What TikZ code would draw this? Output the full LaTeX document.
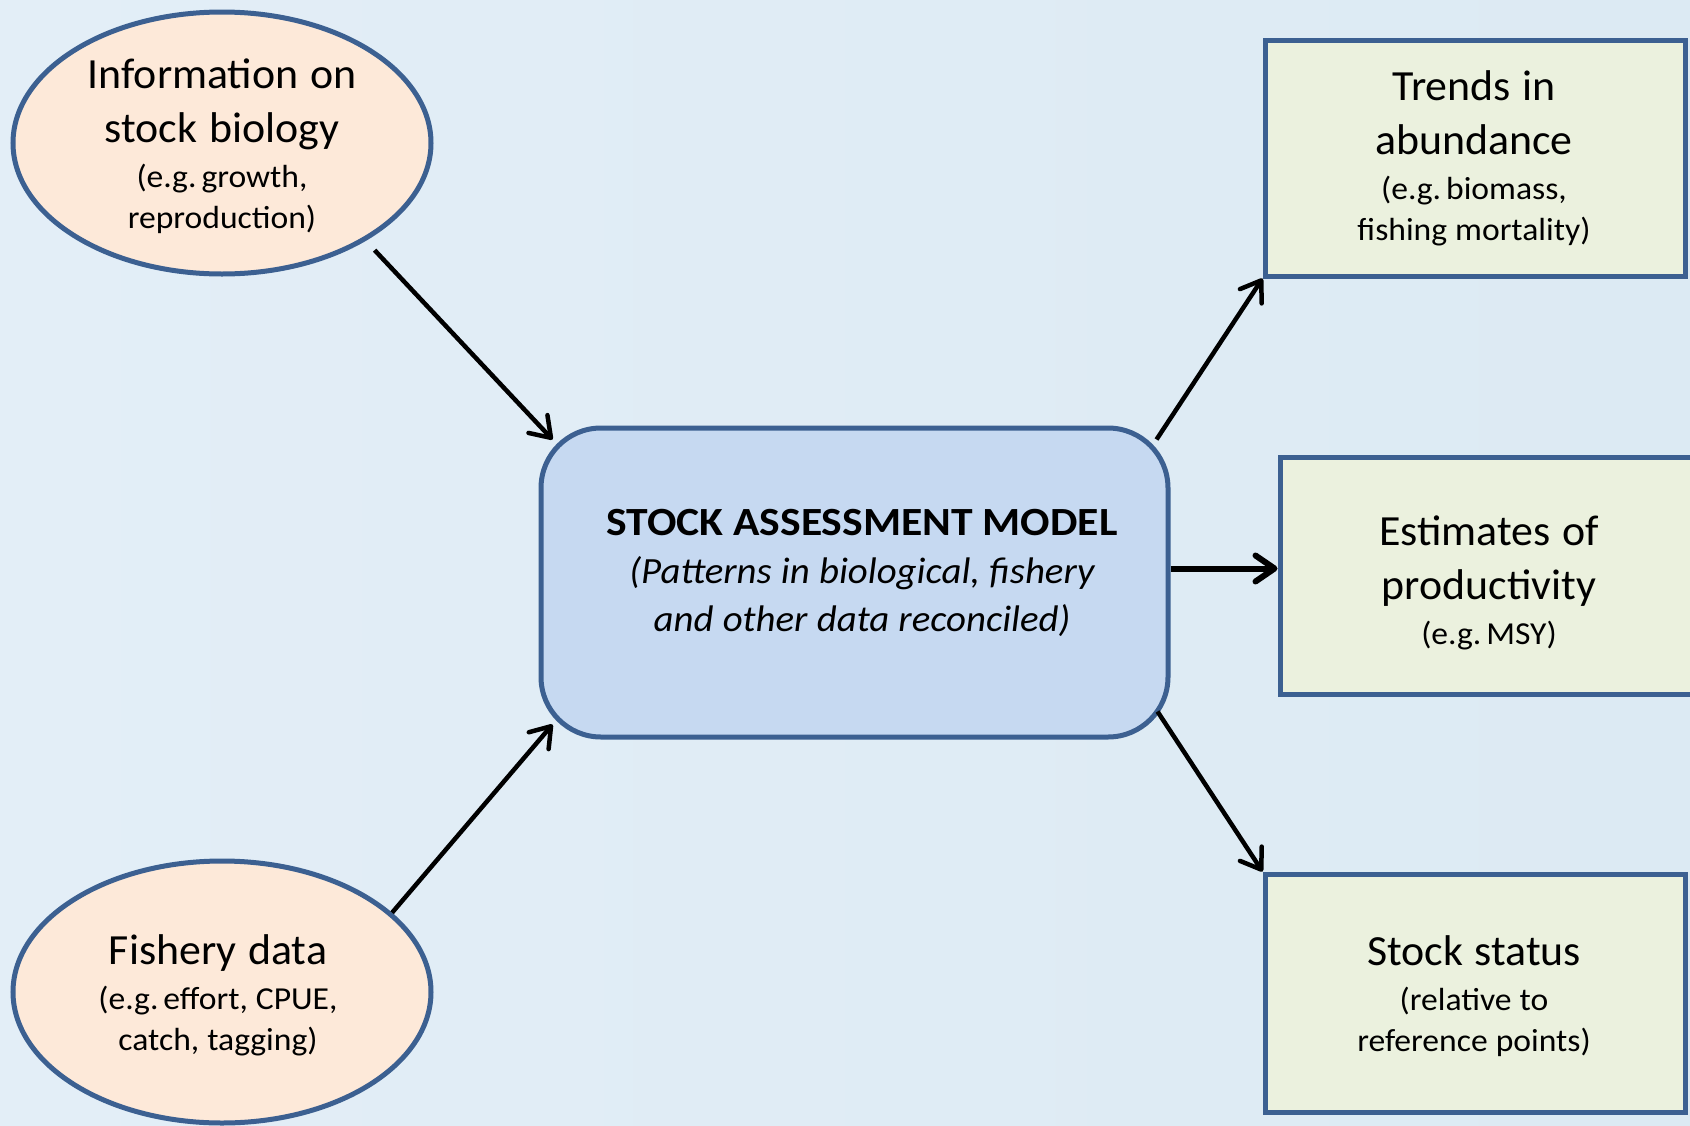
\documentclass[tikz,border=0pt]{standalone}
\usepackage{fontspec}
\setmainfont{Carlito}
\usetikzlibrary{arrows.meta,shapes.geometric,calc}
\definecolor{bgc}{RGB}{227,238,247}
\definecolor{bgr}{RGB}{220,234,243}
\definecolor{bord}{RGB}{60,96,145}
\definecolor{peach}{RGB}{253,233,217}
\definecolor{modelc}{RGB}{198,217,241}
\definecolor{olivec}{RGB}{235,241,222}
\newcommand\LgF{\fontsize{43}{54}\selectfont\addfontfeatures{FakeStretch=1.02}\spaceskip=0.27em\relax}
\newcommand\SmF{\fontsize{32}{41}\selectfont\addfontfeatures{FakeStretch=1.05}\spaceskip=0.25em\relax}
\newcommand\TitleF{\fontsize{40}{49}\selectfont\bfseries\addfontfeatures{FakeStretch=1.09}\spaceskip=0.25em\relax}
\newcommand\ItF{\fontsize{37}{48}\selectfont\mdseries\itshape\addfontfeatures{FakeStretch=1.05}\spaceskip=0.25em\relax}
\tikzset{
  inbox/.style={ellipse, draw=bord, line width=5pt, fill=peach, inner sep=0pt, minimum width=418pt, minimum height=262pt},
  outbox/.style={rectangle, draw=bord, line width=5pt, fill=olivec, inner sep=0pt, minimum width=420pt, minimum height=236pt},
  modelbox/.style={rectangle, rounded corners=60pt, draw=bord, line width=5pt, fill=modelc, inner sep=0pt, minimum width=627pt, minimum height=309pt},
  txt/.style={align=center, text width=460pt, inner sep=0pt},
  arr/.style={draw=black, line width=4.5pt, -{Straight Barb[length=19pt,width=26pt,round]}},
}
\begin{document}
\begin{tikzpicture}[x=1pt,y=-1pt]
\useasboundingbox (0,0) rectangle (1690,1125);
\shade[left color=bgc, right color=bgr] (0,0) rectangle (1690,1125);

\node[inbox] (tl) at (222,143) {};
\node[txt] (tlt) at (222,146) {\LgF Information on\par stock biology\par\vspace{4pt}\SmF (e.g. growth,\par reproduction)\par};

\node[inbox] (bl) at (222,992) {};
\node[txt] (blt) at (218,995) {\LgF Fishery data\par\vspace{4pt}\SmF (e.g. effort, CPUE,\par catch, tagging)\par};

\node[modelbox] (cm) at (854.5,582.5) {};
\node[txt, text width=640pt] (cmt) at (862,573) {\TitleF STOCK ASSESSMENT MODEL\par\ItF (Patterns in biological, fishery\par and other data reconciled)\par};

\node[outbox] (tr) at (1475,158) {};
\node[txt] (trt) at (1474,158) {\LgF Trends in\par abundance\par\vspace{4pt}\SmF (e.g. biomass,\par fishing mortality)\par};

\node[outbox, minimum width=416pt, minimum height=237pt] (mr) at (1488,575.5) {};
\node[txt] (mrt) at (1489,583) {\LgF Estimates of\par productivity\par\vspace{4pt}\SmF (e.g. MSY)\par};

\node[outbox, minimum height=238pt] (br) at (1475,993) {};
\node[txt] (brt) at (1474,996) {\LgF Stock status\par\vspace{4pt}\SmF (relative to\par reference points)\par};

\draw[arr] ([shift={(11,8)}]tl.-35) -- ([shift={(14,14)}]cm.north west);
\draw[arr] (bl.25) -- ([shift={(14,-15)}]cm.south west);
\draw[arr] ([shift={(-14,14)}]cm.north east) -- (tr.south west);
\draw[arr, line width=6pt] ($(cm.east)+(0,-14)$) -- ($(mr.west)+(0,-7)$);
\draw[arr] ([shift={(-13,-28)}]cm.south east) -- (br.north west);
\end{tikzpicture}
\end{document}
